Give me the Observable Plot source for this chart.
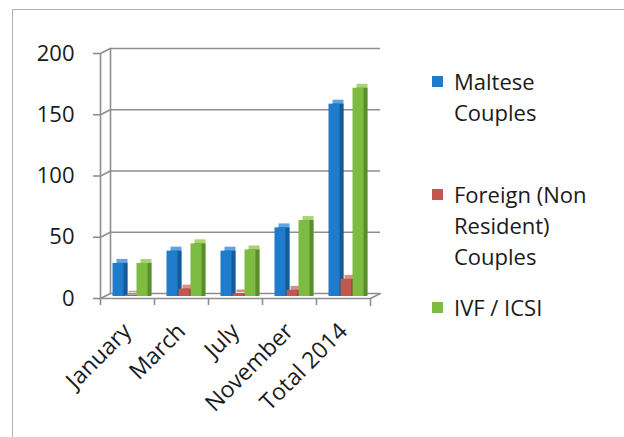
<!DOCTYPE html>
<html><head><meta charset="utf-8">
<script src="https://cdn.jsdelivr.net/npm/d3@7"></script>
<script src="https://cdn.jsdelivr.net/npm/@observablehq/plot@0.6"></script>
<style>
body{margin:0;background:#fff;font-family:"Open Sans",sans-serif;}
#wrap{position:relative;width:624px;height:437px;overflow:hidden;background:#fff;}
#border{position:absolute;left:12px;top:9px;width:700px;height:500px;border-top:1px solid #b0b0b0;border-left:1px solid #b0b0b0;}
#chart{position:absolute;left:0;top:0;}
.leg{position:absolute;left:432px;font-size:22px;line-height:31px;color:#1a1a1a;}
.leg .sw{position:absolute;left:0;top:10px;width:11px;height:11px;}
.leg .tx{position:absolute;left:22px;top:0;white-space:nowrap;}
</style></head>
<body>
<div id="wrap"><div id="border"></div><div id="chart"></div><div id="legend"></div></div>
<script>
const categories = ["January", "March", "July", "November", "Total 2014"];
const maltese = [27, 37, 37, 56, 157];
const foreign = [1, 6, 2, 5, 14];
const ivf = [27, 43, 38, 62, 170];
const yTicks = [0, 50, 100, 150, 200];
const seriesNames = [["Maltese", "Couples"], ["Foreign (Non", "Resident)", "Couples"], ["IVF / ICSI"]];

const series = [
  {values: maltese, front: "#1f7bcc", side: "#165b99", top: "#5ea4e4", dx: -9},
  {values: foreign, front: "#c2574f", side: "#8f3b35", top: "#dc8d86", dx: 3},
  {values: ivf, front: "#7dbb43", side: "#5b8d2e", top: "#a8d474", dx: 15}
];

const grid = "#8e8e8e";
const lineShape = {draw(context, l) { context.moveTo(0, 0); context.lineTo(0, -l); }};

const barMarks = [];
for (const s of series) {
  const data = categories.map((c, i) => ({cat: c, v: s.values[i]}));
  const common = {x: "cat", y: "v", insetLeft: 21.5, insetRight: 21.5};
  barMarks.push(Plot.barY(data, {...common, fill: s.top, dx: s.dx + 4, dy: -6}));
  barMarks.push(Plot.barY(data, {...common, fill: s.side, dx: s.dx + 4, dy: -2}));
  barMarks.push(Plot.barY(data, {...common, fill: s.front, dx: s.dx, dy: -2}));
}

const chart = Plot.plot({
  width: 624,
  height: 437,
  marginLeft: 100,
  marginRight: 254,
  marginTop: 53,
  marginBottom: 139,
  style: {fontFamily: "'Open Sans', sans-serif", color: "#1a1a1a", background: "transparent"},
  x: {domain: categories, padding: 0, label: null},
  y: {domain: [0, 200], label: null},
  marks: [
    Plot.ruleY(yTicks, {stroke: grid, strokeWidth: 1.6, dx: 10, dy: -5}),
    Plot.ruleY([0], {stroke: grid, strokeWidth: 1.6}),
    Plot.vector(yTicks, {y: d => d, frameAnchor: "left", length: 11, rotate: 63.4, anchor: "start", shape: lineShape, stroke: grid, strokeWidth: 1.6}),
    Plot.vector([0], {y: d => d, frameAnchor: "right", length: 11, rotate: 63.4, anchor: "start", shape: lineShape, stroke: grid, strokeWidth: 1.6}),
    Plot.ruleX([categories[0]], {x: d => d, dx: -27, y1: 0, y2: 200, stroke: grid, strokeWidth: 1.6}),
    Plot.ruleX([categories[0]], {x: d => d, dx: -17, dy: -5, y1: 0, y2: 200, stroke: grid, strokeWidth: 1.6}),
    Plot.vector([0], {y: d => d, frameAnchor: "right", length: 7, rotate: 180, anchor: "start", shape: lineShape, stroke: grid, strokeWidth: 1.6}),
    Plot.axisX({tickSize: 7, text: null, label: null, dx: -27, stroke: grid, strokeWidth: 1.6}),
    Plot.axisX({tickSize: 0, tickRotate: -45, tickPadding: 29, fontSize: 23, dx: 0, label: null}),
    Plot.axisY({ticks: yTicks, tickSize: 7, tickPadding: 19, fontSize: 22, stroke: grid, strokeWidth: 1.6, label: null}),
    ...barMarks
  ]
});
document.getElementById("chart").appendChild(chart);

const legendTops = [66, 179, 292];
const legend = document.getElementById("legend");
series.forEach((s, i) => {
  const div = document.createElement("div");
  div.className = "leg";
  div.style.top = legendTops[i] + "px";
  div.innerHTML = `<div class="sw" style="background:${s.front}"></div><div class="tx">${seriesNames[i].join("<br>")}</div>`;
  legend.appendChild(div);
});
</script>
</body></html>
